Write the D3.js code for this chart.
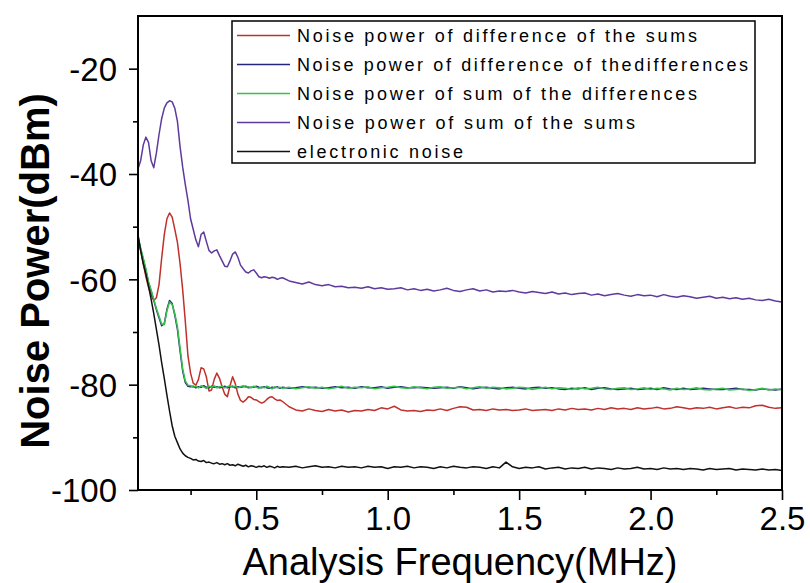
<!DOCTYPE html>
<html><head><meta charset="utf-8">
<script src="https://cdn.jsdelivr.net/npm/d3@7"></script>
<style>
html,body{margin:0;padding:0;background:#fff;}
svg{display:block;}
text{font-family:"Liberation Sans",Arial,sans-serif;}
</style></head>
<body><svg id="chart" width="810" height="583"></svg>
<script>
// ---------- DATA ----------
const freq = [
 0.05,0.06,0.07,0.08,0.09,0.10,0.11,0.12,0.13,0.14,
 0.15,0.16,0.17,0.18,0.19,0.20,0.21,0.22,0.23,0.24,
 0.25,0.26,0.27,0.28,0.29,0.30,0.31,0.32,0.33,0.34,
 0.35,0.36,0.37,0.38,0.39,0.40,0.41,0.42,0.43,0.44,
 0.45,0.46,0.47,0.48,0.49,0.50,0.51,0.52,0.53,0.54,
 0.55,0.56,0.57,0.58,0.59,0.60,
 0.625,0.65,0.675,0.70,0.725,0.75,0.775,0.80,0.825,0.85,
 0.875,0.90,0.925,0.95,0.975,1.00,1.025,1.05,1.075,1.10,
 1.125,1.15,1.175,1.20,1.225,1.25,1.275,1.30,1.325,1.35,
 1.375,1.40,1.425,1.45,1.475,1.50,1.525,1.55,1.575,1.60,
 1.625,1.65,1.675,1.70,1.725,1.75,1.775,1.80,1.825,1.85,
 1.875,1.90,1.925,1.95,1.975,2.00,2.025,2.05,2.075,2.10,
 2.125,2.15,2.175,2.20,2.225,2.25,2.275,2.30,2.325,2.35,
 2.375,2.40,2.425,2.45,2.475,2.50
];

const diffOfSums = [
 -52.0,-54.5,-57.0,-59.5,-61.5,-63.0,-64.0,-63.5,-61.0,-56.0,
 -51.5,-48.5,-47.4,-48.2,-50.5,-53.0,-57.0,-62.0,-68.0,-74.5,
 -77.8,-79.7,-80.1,-79.0,-76.8,-77.0,-78.5,-81.2,-81.0,-79.0,
 -77.8,-78.8,-80.4,-81.8,-82.3,-80.2,-78.5,-79.8,-81.8,-83.0,
 -83.3,-82.9,-82.3,-82.4,-82.8,-82.9,-83.2,-83.5,-83.3,-82.8,
 -82.4,-82.3,-82.7,-83.0,-82.9,-83.2,
 -84.2,-84.8,-85.0,-84.6,-84.9,-85.1,-84.7,-85.0,-84.8,-85.2,
 -84.9,-85.0,-84.7,-84.9,-84.4,-84.6,-84.1,-84.8,-85.0,-84.9,
 -85.1,-84.8,-84.9,-84.6,-84.9,-84.5,-84.2,-84.3,-84.8,-84.7,
 -84.9,-84.6,-84.8,-84.7,-84.9,-84.8,-84.6,-84.9,-84.8,-84.7,
 -84.9,-84.6,-84.8,-84.5,-84.7,-84.6,-84.8,-84.5,-84.7,-84.4,
 -84.6,-84.5,-84.7,-84.4,-84.6,-84.5,-84.3,-84.6,-84.5,-84.2,
 -84.4,-84.6,-84.4,-84.5,-84.3,-84.6,-84.4,-84.2,-84.5,-84.3,
 -84.4,-84.0,-83.9,-84.3,-84.5,-84.4
];

const diffOfDiffs = [
 -52.2,-54.3,-56.2,-58.3,-60.6,-62.3,-64.0,-65.8,-67.3,-68.8,
 -68.4,-65.7,-64.0,-64.6,-66.8,-69.5,-73.6,-77.4,-79.6,-80.3,
 -80.4,-80.3,-80.6,-80.4,-80.5,-80.2,-80.5,-80.6,-80.3,-80.5,
 -80.4,-80.6,-80.5,-80.3,-80.6,-80.4,-80.3,-80.6,-80.4,-80.5,
 -80.4,-80.3,-80.6,-80.5,-80.5,-80.3,-80.5,-80.6,-80.4,-80.6,
 -80.7,-80.5,-80.6,-80.4,-80.7,-80.5,
 -80.7,-80.6,-80.4,-80.6,-80.5,-80.7,-80.6,-80.4,-80.6,-80.5,
 -80.7,-80.4,-80.6,-80.6,-80.4,-80.7,-80.5,-80.4,-80.6,-80.6,
 -80.5,-80.6,-80.7,-80.6,-80.5,-80.7,-80.4,-80.6,-80.8,-80.6,
 -80.5,-80.7,-80.8,-80.6,-80.5,-80.7,-80.8,-80.6,-80.5,-80.7,
 -80.6,-80.8,-80.9,-80.7,-80.8,-80.6,-80.9,-80.7,-80.6,-80.8,
 -80.9,-80.8,-80.7,-80.9,-80.8,-80.7,-80.9,-80.6,-80.8,-80.9,
 -80.7,-80.9,-80.8,-80.7,-80.8,-80.9,-80.9,-80.8,-80.7,-80.9,
 -80.9,-81.0,-80.8,-80.9,-81.0,-80.8
];

const sumOfDiffs = [
 -52.0,-54.0,-56.0,-58.0,-60.5,-62.0,-63.8,-65.5,-67.0,-68.5,
 -68.6,-66.0,-64.3,-64.8,-66.5,-69.0,-73.0,-77.0,-79.3,-80.1,
 -80.2,-80.5,-80.3,-80.6,-80.2,-80.4,-80.7,-80.3,-80.5,-80.2,
 -80.6,-80.4,-80.3,-80.6,-80.4,-80.2,-80.5,-80.3,-80.6,-80.4,
 -80.2,-80.5,-80.4,-80.6,-80.3,-80.5,-80.7,-80.4,-80.6,-80.3,
 -80.5,-80.8,-80.4,-80.6,-80.5,-80.7,
 -80.5,-80.8,-80.6,-80.4,-80.7,-80.5,-80.8,-80.6,-80.3,-80.7,
 -80.5,-80.6,-80.4,-80.8,-80.6,-80.5,-80.3,-80.6,-80.7,-80.4,
 -80.6,-80.8,-80.5,-80.4,-80.7,-80.6,-80.5,-80.8,-80.6,-80.4,
 -80.7,-80.5,-80.6,-80.8,-80.7,-80.5,-80.6,-80.9,-80.7,-80.5,
 -80.8,-80.6,-80.7,-80.9,-80.6,-80.8,-80.7,-80.5,-80.8,-80.9,
 -80.7,-80.6,-80.9,-80.8,-80.6,-80.9,-80.7,-80.8,-81.0,-80.7,
 -80.9,-80.8,-80.6,-80.9,-81.0,-80.8,-80.7,-81.0,-80.9,-80.8,
 -81.1,-80.9,-80.7,-81.0,-80.8,-81.0
];

const sumOfSums = [
 -39.0,-37.5,-34.5,-33.0,-34.0,-37.5,-38.8,-36.0,-32.5,-29.5,
 -27.5,-26.5,-26.1,-26.3,-27.5,-30.0,-34.8,-38.7,-42.0,-45.0,
 -48.5,-50.5,-52.5,-53.8,-51.5,-51.0,-52.8,-54.5,-55.0,-54.6,
 -54.4,-55.5,-56.5,-57.5,-57.6,-56.5,-55.2,-54.8,-55.8,-57.3,
 -58.0,-58.6,-58.8,-58.4,-58.2,-58.8,-59.5,-59.7,-59.5,-59.6,
 -59.8,-59.6,-59.7,-60.0,-59.8,-59.7,
 -60.3,-60.6,-60.9,-60.5,-61.0,-61.2,-61.0,-61.4,-61.3,-61.6,
 -61.5,-61.7,-61.4,-61.8,-61.6,-61.9,-61.8,-61.6,-62.0,-61.8,
 -62.1,-61.9,-62.2,-62.0,-61.7,-62.1,-62.3,-62.0,-61.8,-62.2,
 -62.0,-62.4,-62.2,-62.3,-62.1,-62.4,-62.6,-62.3,-62.5,-62.7,
 -62.4,-62.8,-62.6,-62.9,-62.7,-62.6,-63.0,-62.8,-63.1,-62.9,
 -62.7,-63.0,-63.2,-62.9,-63.1,-63.0,-63.3,-62.9,-63.2,-63.4,
 -63.1,-63.3,-63.6,-63.4,-63.2,-63.6,-63.4,-63.7,-63.5,-63.8,
 -63.6,-63.9,-64.0,-63.8,-64.1,-64.3
];

const electronic = [
 -51.5,-54.5,-57.0,-59.0,-61.3,-63.8,-66.5,-69.5,-72.5,-75.8,
 -78.8,-82.0,-85.0,-87.8,-89.8,-91.0,-92.2,-93.0,-93.5,-93.8,
 -94.0,-94.3,-94.2,-94.5,-94.6,-94.4,-94.8,-94.7,-94.9,-95.0,
 -94.8,-95.1,-95.0,-95.2,-95.0,-95.3,-95.2,-95.4,-95.1,-95.3,
 -95.5,-95.3,-95.6,-95.4,-95.5,-95.7,-95.5,-95.6,-95.4,-95.7,
 -95.5,-95.6,-95.8,-95.5,-95.7,-95.6,
 -95.7,-95.5,-95.8,-95.6,-95.4,-95.7,-95.6,-95.8,-95.5,-95.7,
 -95.6,-95.8,-95.5,-95.7,-95.6,-95.9,-95.6,-95.7,-95.5,-95.8,
 -95.6,-95.7,-95.9,-95.6,-95.8,-95.5,-95.7,-95.8,-95.6,-95.7,
 -95.9,-95.6,-95.8,-94.7,-95.6,-95.9,-95.7,-95.8,-95.6,-96.0,
 -95.8,-95.7,-96.0,-95.8,-95.9,-95.7,-96.0,-95.8,-95.9,-96.1,
 -95.8,-96.0,-95.9,-95.7,-96.0,-95.9,-96.1,-95.8,-96.0,-95.9,
 -96.1,-95.9,-96.0,-96.2,-95.9,-96.1,-96.0,-95.9,-96.2,-96.0,
 -96.1,-96.2,-96.0,-96.2,-96.1,-96.3
];

const seriesNames = [
 "Noise power of difference of the sums",
 "Noise power of difference of thedifferences",
 "Noise power of sum of the differences",
 "Noise power of sum of the sums",
 "electronic noise"
];
const seriesColors = ["#c0302c","#26267a","#36c24a","#5e3a9e","#111111"];
const seriesValues = [diffOfSums, diffOfDiffs, sumOfDiffs, sumOfSums, electronic];

const xMajorTicks = [0.5,1.0,1.5,2.0,2.5];
const xMinorTicks = [0.25,0.75,1.25,1.75,2.25];
const yMajorTicks = [-100,-80,-60,-40,-20];
const yMinorTicks = [-90,-70,-50,-30];
const xTitle = "Analysis Frequency(MHz)";
const yTitle = "Noise Power(dBm)";

// ---------- LAYOUT ----------
const L = 138, R = 782, T = 16, B = 490;
const svg = d3.select("#chart");
const x = d3.scaleLinear().domain([0.05, 2.5]).range([L, R]);
const y = d3.scaleLinear().domain([-100, -10]).range([B, T]);

svg.append("defs").append("clipPath").attr("id","clip")
  .append("rect").attr("x",L).attr("y",T).attr("width",R-L).attr("height",B-T);

const line = d3.line().x((d,i)=>x(freq[i])).y(d=>y(d));
const drawOrder = [3,0,1,2,4];
const gLines = svg.append("g").attr("clip-path","url(#clip)");
drawOrder.forEach(k=>{
  gLines.append("path").datum(seriesValues[k])
    .attr("d", line).attr("fill","none")
    .attr("stroke", seriesColors[k]).attr("stroke-width",1.5)
    .attr("stroke-linejoin","round");
});

// axes
const axisFont = '"Liberation Sans",Arial,sans-serif';
const xAxis = svg.append("g").attr("transform",`translate(0,${B})`)
  .call(d3.axisBottom(x).tickValues(xMajorTicks).tickFormat(d3.format(".1f")).tickSize(10).tickPadding(7));
const xMinor = svg.append("g").attr("transform",`translate(0,${B})`)
  .call(d3.axisBottom(x).tickValues(xMinorTicks).tickFormat("").tickSize(5));
const yAxis = svg.append("g").attr("transform",`translate(${L},0)`)
  .call(d3.axisLeft(y).tickValues(yMajorTicks).tickFormat(d => String(d)).tickSize(9).tickPadding(12));
const yMinor = svg.append("g").attr("transform",`translate(${L},0)`)
  .call(d3.axisLeft(y).tickValues(yMinorTicks).tickFormat("").tickSize(5));
[xAxis,xMinor,yAxis,yMinor].forEach(g=>{
  g.select(".domain").remove();
  g.selectAll(".tick line").attr("stroke","#000").attr("stroke-width",1.6);
  g.selectAll("text").attr("fill","#000").style("font-family",axisFont).style("font-size","33px");
});
yAxis.selectAll("text").attr("dy","0.36em");

// frame
svg.append("rect").attr("x",L).attr("y",T).attr("width",R-L).attr("height",B-T)
  .attr("fill","none").attr("stroke","#000").attr("stroke-width",2);

// titles
svg.append("text").attr("x",460).attr("y",575).attr("text-anchor","middle")
  .style("font-size","38px").attr("fill","#000").text(xTitle);
svg.append("text").attr("transform","translate(49,271) rotate(-90)").attr("text-anchor","middle")
  .style("font-size","40px").style("font-weight","bold").attr("fill","#000").text(yTitle);

// legend
const legendWidths = [400,451,400,338,166];
const lg = svg.append("g");
lg.append("rect").attr("x",232).attr("y",21).attr("width",523).attr("height",142)
  .attr("fill","#fff").attr("stroke","#000").attr("stroke-width",1.5);
seriesNames.forEach((name,i)=>{
  const cy = 35.5 + i*29;
  lg.append("line").attr("x1",237).attr("x2",290).attr("y1",cy).attr("y2",cy)
    .attr("stroke",seriesColors[i]).attr("stroke-width",1.5);
  lg.append("text").attr("x",297).attr("y",cy).attr("dy","0.35em")
    .style("font-size","18px").attr("fill","#000")
    .attr("textLength",legendWidths[i]).attr("lengthAdjust","spacing")
    .text(name);
});
</script>
</body></html>
